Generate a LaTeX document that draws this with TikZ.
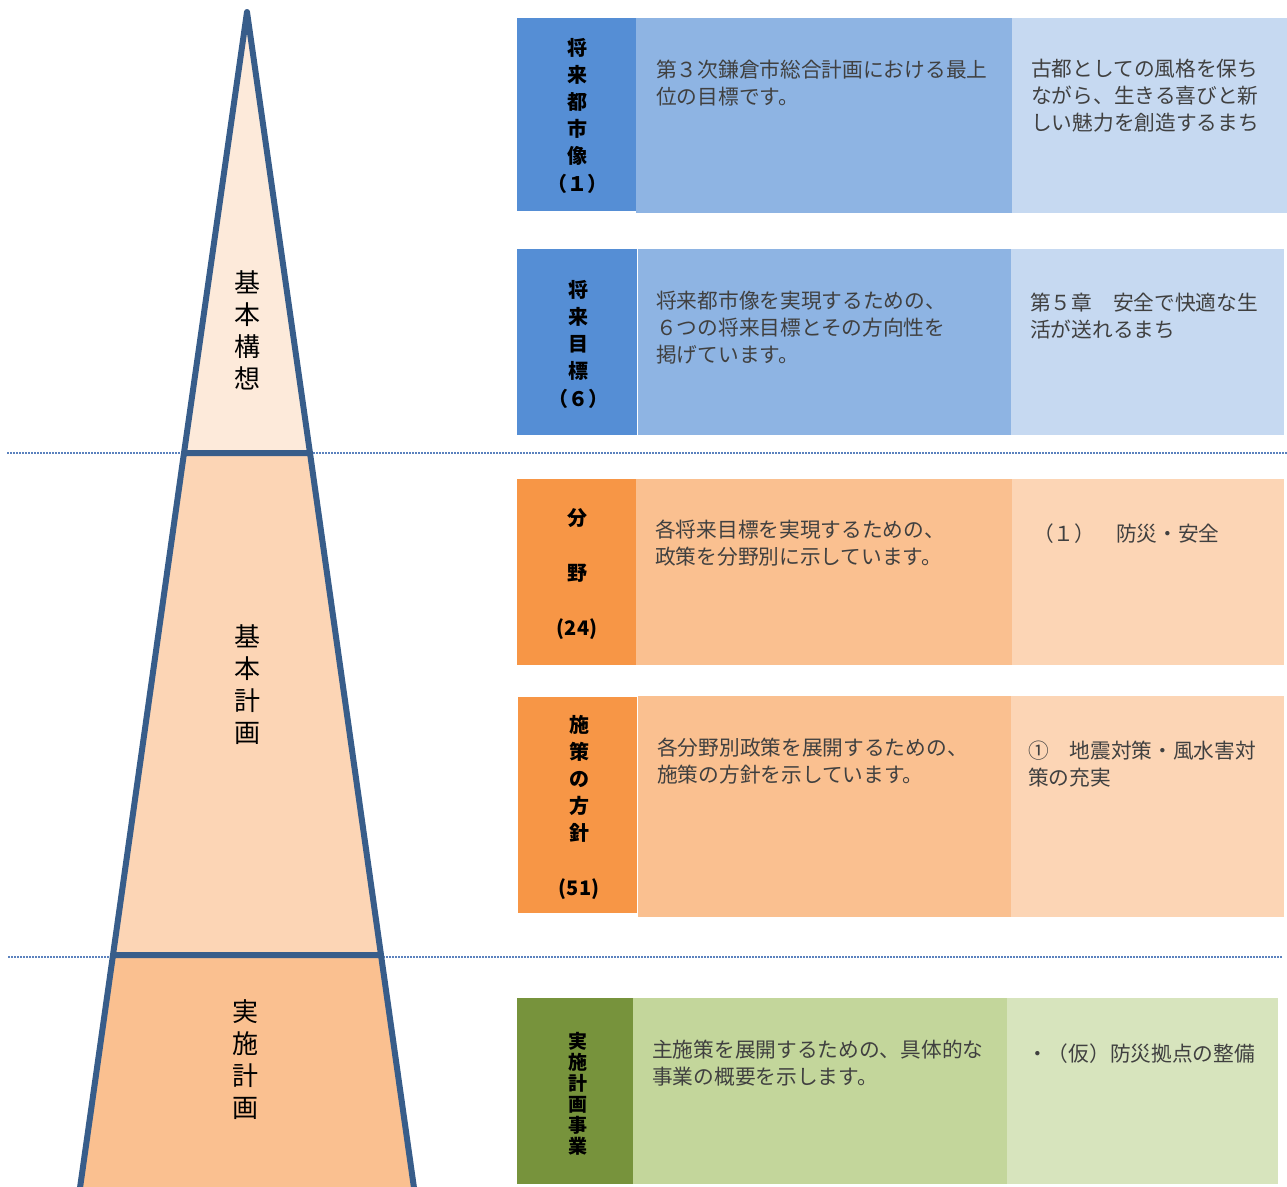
\documentclass[tikz,border=0pt]{standalone}
\usepackage{fontspec}
\newfontfamily\jpfont{Noto Sans CJK JP}
\definecolor{blueD}{HTML}{558ED5}
\definecolor{blueM}{HTML}{8EB4E3}
\definecolor{blueL}{HTML}{C6D9F1}
\definecolor{orngD}{HTML}{F79646}
\definecolor{orngM}{HTML}{FAC090}
\definecolor{orngL}{HTML}{FCD5B5}
\definecolor{grnD}{HTML}{77933C}
\definecolor{grnM}{HTML}{C3D69B}
\definecolor{grnL}{HTML}{D7E4BD}
\definecolor{pyrTop}{HTML}{FDEADA}
\definecolor{pyrEdge}{HTML}{385D8A}
\definecolor{dotline}{HTML}{5B82BE}
\tikzset{
  headtext/.style={font=\jpfont\bfseries\fontsize{20}{27.2}\selectfont, align=center, inner sep=0pt, anchor=base},
  notetext/.style={font=\jpfont\fontsize{20.7}{27}\selectfont, text=black!75, align=left, inner sep=0pt, anchor=base west, text width=#1},
  notetext/.default=360pt,
  tiertext/.style={font=\jpfont\fontsize{26}{31.7}\selectfont, align=center, inner sep=0pt, anchor=base},
  pyrline/.style={draw=pyrEdge, line width=6pt, line join=round},
  sepline/.style={draw=dotline, line width=1.5pt, dash pattern=on 1.5pt off 1.5pt},
}
\begin{document}
\begin{tikzpicture}[x=1pt,y=-1pt]
  \useasboundingbox (0,0) rectangle (1287,1186);
% Dotted separators
  \draw[sepline] (7,453) -- (1287,453);
  \draw[sepline] (8,957) -- (1283,957);
% Pyramid (stacked labels are placed by their last line)
  \filldraw[pyrline, fill=pyrTop] (247,12) -- (184,453) -- (310,453) -- cycle;
  \filldraw[pyrline, fill=orngL] (184,453) -- (310,453) -- (381,955) -- (113,955) -- cycle;
  \filldraw[pyrline, fill=orngM] (113,955) -- (381,955) -- (415,1195) -- (79,1195) -- cycle;
  \node[tiertext] (kousou) at (247,388) {基\\本\\構\\想};
  \node[tiertext] (keikaku) at (247,742) {基\\本\\計\\画};
  \node[tiertext] (jisshi) at (245,1117) {実\\施\\計\\画};
% Future city image
  \fill[blueD] (517,18) rectangle (636,211);
  \fill[blueM] (636,18) rectangle (1012,213);
  \fill[blueL] (1012,18) rectangle (1287,213);
  \node[headtext] (toshizou) at (577,191) {将\\来\\都\\市\\像\\（１）};
  \node[notetext] (toshizouA) at (656,77) {第３次鎌倉市総合計画における最上\\位の目標です。};
  \node[notetext=250pt] (toshizouB) at (1031,76) {古都としての風格を保ち\\ながら、生きる喜びと新\\しい魅力を創造するまち};
% Future goals
  \fill[blueD] (517,249) rectangle (637,435);
  \fill[blueM] (638,249) rectangle (1011,435);
  \fill[blueL] (1011,249) rectangle (1284,435);
  \node[headtext] (mokuhyou) at (578,406) {将\\来\\目\\標\\（６）};
  \node[notetext] (mokuhyouA) at (656,308) {将来都市像を実現するための、\\６つの将来目標とその方向性を\\掲げています。};
  \node[notetext=250pt] (mokuhyouB) at (1030,310) {第５章　安全で快適な生\\活が送れるまち};
% Fields
  \fill[orngD] (517,479) rectangle (636,665);
  \fill[orngM] (636,479) rectangle (1012,665);
  \fill[orngL] (1012,479) rectangle (1284,665);
  \node[headtext, font=\jpfont\bfseries\fontsize{20}{27.5}\selectfont] (bunya) at (577,635) {分\\[27.5pt]野\\[27.5pt](24)};
  \node[notetext] (bunyaA) at (655,537) {各将来目標を実現するための、\\政策を分野別に示しています。};
  \node[notetext=250pt] (bunyaB) at (1033,541) {（１）　防災・安全};
% Policy directions
  \fill[orngD] (518,697) rectangle (637,913);
  \fill[orngM] (638,696) rectangle (1011,917);
  \fill[orngL] (1011,696) rectangle (1284,917);
  \node[headtext, font=\jpfont\bfseries\fontsize{20}{27}\selectfont] (houshin) at (579,895) {施\\策\\の\\方\\針\\[27.5pt](51)};
  \node[notetext] (houshinA) at (657,755) {各分野別政策を展開するための、\\施策の方針を示しています。};
  \node[notetext=250pt] (houshinB) at (1028,758) {①　地震対策・風水害対\\策の充実};
% Projects
  \fill[grnD] (517,998) rectangle (633,1184);
  \fill[grnM] (633,998) rectangle (1007,1184);
  \fill[grnL] (1007,998) rectangle (1278,1184);
  \node[headtext, font=\jpfont\bfseries\fontsize{19}{21}\selectfont] (jigyou) at (578,1153) {実\\施\\計\\画\\事\\業};
  \node[notetext] (jigyouA) at (652,1057) {主施策を展開するための、具体的な\\事業の概要を示します。};
  \node[notetext=250pt] (jigyouB) at (1027,1061) {・（仮）防災拠点の整備};
\end{tikzpicture}
\end{document}
